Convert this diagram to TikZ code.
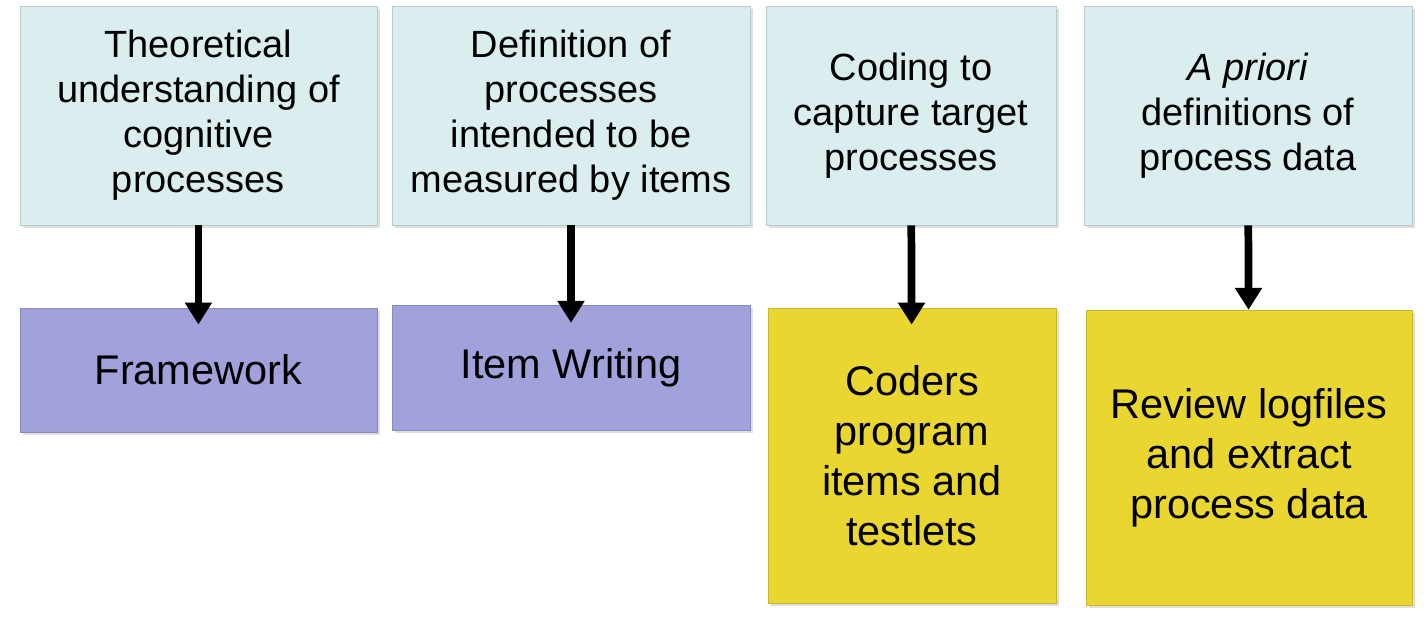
\documentclass[tikz,border=0pt]{standalone}
\usepackage{fontspec}
\setmainfont{Liberation Sans}
\usetikzlibrary{arrows.meta,shadows}
\definecolor{topblue}{RGB}{218,238,240}
\definecolor{lilac}{RGB}{161,161,220}
\definecolor{mustard}{RGB}{234,214,48}
\tikzset{>={Triangle[width=.65cm,length=.55cm]},
  box/.style={draw=#1!85!black,line width=.4pt,fill=#1,align=center,inner sep=0pt,
    drop shadow={shadow xshift=2pt,shadow yshift=-2pt,opacity=.25}},
  idea/.style={box=topblue,minimum height=5.475cm,font=\fontsize{27}{32}\selectfont},
  task/.style={box=#1,font=\fontsize{29.5}{35.5}\selectfont},
  flow/.style={line width=5.5pt,->}}
\begin{document}
\begin{tikzpicture}
\useasboundingbox (0,0) rectangle (35.7,-15.45);
% upper row
\node[idea,minimum width=8.925cm] (t1) at (4.96,-2.89) {Theoretical\\understanding of\\cognitive\\processes};
\node[idea,minimum width=8.95cm] (t2) at (14.275,-2.89) {Definition of\\processes\\intended to be\\measured by items};
\node[idea,minimum width=7.25cm] (t3) at (22.775,-2.89) {Coding to\\capture target\\processes};
\node[idea,minimum width=8.2cm] (t4) at (31.2,-2.89) {\textit{A priori}\\definitions of\\process data};
% lower row
\node[task=lilac,minimum width=8.925cm,minimum height=3.1cm] (b1) at (4.96,-9.25) {Framework};
\node[task=lilac,minimum width=8.95cm,minimum height=3.125cm] (b2) at (14.275,-9.19) {Item Writing};
\node[task=mustard,minimum width=7.2cm,minimum height=7.375cm] (b3) at (22.8,-11.39) {Coders\\program\\items and\\testlets};
\node[task=mustard,minimum width=8.15cm,minimum height=7.375cm] (b4) at (31.225,-11.44) {Review logfiles\\and extract\\process data};
% arrows
\draw[flow,shorten >=-.42cm] (t1) -- (b1);
\draw[flow,shorten >=-.45cm] (t2) -- (b2);
\draw[flow,shorten >=-.42cm] (t3) -- (b3);
\draw[flow] (t4) -- (b4);
\end{tikzpicture}
\end{document}
